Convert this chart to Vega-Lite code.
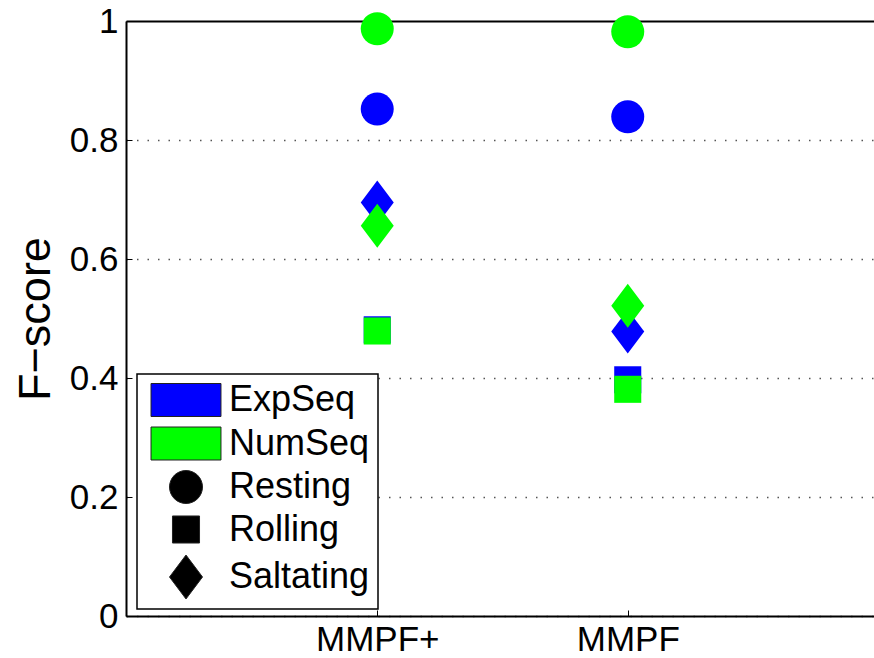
{
  "$schema": "https://vega.github.io/schema/vega-lite/v6.json",
  "autosize": "none",
  "padding": {"left": 126, "top": 21, "right": 0, "bottom": 42},
  "width": 748,
  "height": 595,
  "background": "white",
  "config": {
    "font": "Liberation Sans",
    "view": {"stroke": null},
    "axis": {"labelFont": "Liberation Sans", "titleFont": "Liberation Sans", "labelColor": "black", "titleColor": "black"},
    "legend": {"strokeWidth": 1.5}
  },
  "data": {
    "values": [
      {"method": "MMPF+", "series": "ExpSeq", "type": "Resting", "fscore": 0.852},
      {"method": "MMPF+", "series": "ExpSeq", "type": "Rolling", "fscore": 0.481},
      {"method": "MMPF+", "series": "ExpSeq", "type": "Saltating", "fscore": 0.695},
      {"method": "MMPF", "series": "ExpSeq", "type": "Resting", "fscore": 0.839},
      {"method": "MMPF", "series": "ExpSeq", "type": "Rolling", "fscore": 0.397},
      {"method": "MMPF", "series": "ExpSeq", "type": "Saltating", "fscore": 0.478},
      {"method": "MMPF+", "series": "NumSeq", "type": "Resting", "fscore": 0.987},
      {"method": "MMPF+", "series": "NumSeq", "type": "Rolling", "fscore": 0.479},
      {"method": "MMPF+", "series": "NumSeq", "type": "Saltating", "fscore": 0.656},
      {"method": "MMPF", "series": "NumSeq", "type": "Resting", "fscore": 0.982},
      {"method": "MMPF", "series": "NumSeq", "type": "Rolling", "fscore": 0.381},
      {"method": "MMPF", "series": "NumSeq", "type": "Saltating", "fscore": 0.5215}
    ]
  },
  "mark": {"type": "point", "filled": true, "opacity": 1, "size": 1089, "strokeWidth": 0},
  "encoding": {
    "x": {
      "field": "method", "type": "nominal", "sort": null,
      "scale": {"type": "point", "domain": ["MMPF+", "MMPF"], "padding": 0.993, "align": 0.505},
      "axis": {
        "title": null, "labelAngle": 0, "labelFontSize": 35, "labelPadding": 12,
        "domainColor": "black", "domainWidth": 2, "tickColor": "black", "tickSize": -6, "tickWidth": 1,
        "grid": false
      }
    },
    "y": {
      "field": "fscore", "type": "quantitative",
      "scale": {"domain": [0, 1], "nice": false, "zero": false},
      "axis": {
        "title": "F−score", "titleFontSize": 45, "titleFontWeight": "normal", "titlePadding": 11,
        "values": [0, 0.2, 0.4, 0.6, 0.8, 1], "format": "~g",
        "labelFontSize": 35, "labelPadding": 14,
        "domainColor": "black", "domainWidth": 2, "tickColor": "black", "tickSize": -6, "tickWidth": 1,
        "grid": true,
        "gridColor": {"condition": {"test": "datum.value === 1", "value": "black"}, "value": "#555"},
        "gridDash": {"condition": {"test": "datum.value === 1", "value": []}, "value": [1.5, 9]},
        "gridWidth": {"condition": {"test": "datum.value === 1", "value": 2}, "value": 1.5}
      }
    },
    "color": {
      "field": "series", "type": "nominal",
      "scale": {"domain": ["ExpSeq", "NumSeq", "Resting", "Rolling", "Saltating"], "range": ["#0000ff", "#00ff00", "#000000", "#000000", "#000000"]},
      "legend": {
        "title": null, "orient": "none", "legendX": 11, "legendY": 353,
        "direction": "vertical", "columns": 1,
        "strokeColor": "black", "fillColor": "white", "padding": 8,
        "labelFont": "Liberation Sans", "labelFontSize": 36, "labelColor": "black",
        "symbolSize": 1089, "symbolOffset": 23, "labelOffset": 25, "rowPadding": 5.5,
        "symbolOpacity": 1,
        "encode": {"symbols": {"update": {"stroke": {"value": "#222"}, "strokeWidth": {"value": 1}}}}
      }
    },
    "shape": {
      "field": "type", "type": "nominal",
      "scale": {"domain": ["ExpSeq", "NumSeq", "Resting", "Rolling", "Saltating"], "range": ["M-2.12,-1H2.12V1H-2.12Z", "M-2.12,-1H2.12V1H-2.12Z", "circle", "M-0.82,-0.82H0.82V0.82H-0.82Z", "M0,-1.33L1,0L0,1.33L-1,0Z"]},
      "legend": {
        "title": null, "orient": "none", "legendX": 11, "legendY": 353,
        "direction": "vertical", "columns": 1,
        "strokeColor": "black", "fillColor": "white", "padding": 8,
        "labelFont": "Liberation Sans", "labelFontSize": 36, "labelColor": "black",
        "symbolSize": 1089, "symbolOffset": 23, "labelOffset": 25, "rowPadding": 5.5,
        "symbolOpacity": 1,
        "encode": {"symbols": {"update": {"stroke": {"value": "#222"}, "strokeWidth": {"value": 1}}}}
      }
    }
  }
}
